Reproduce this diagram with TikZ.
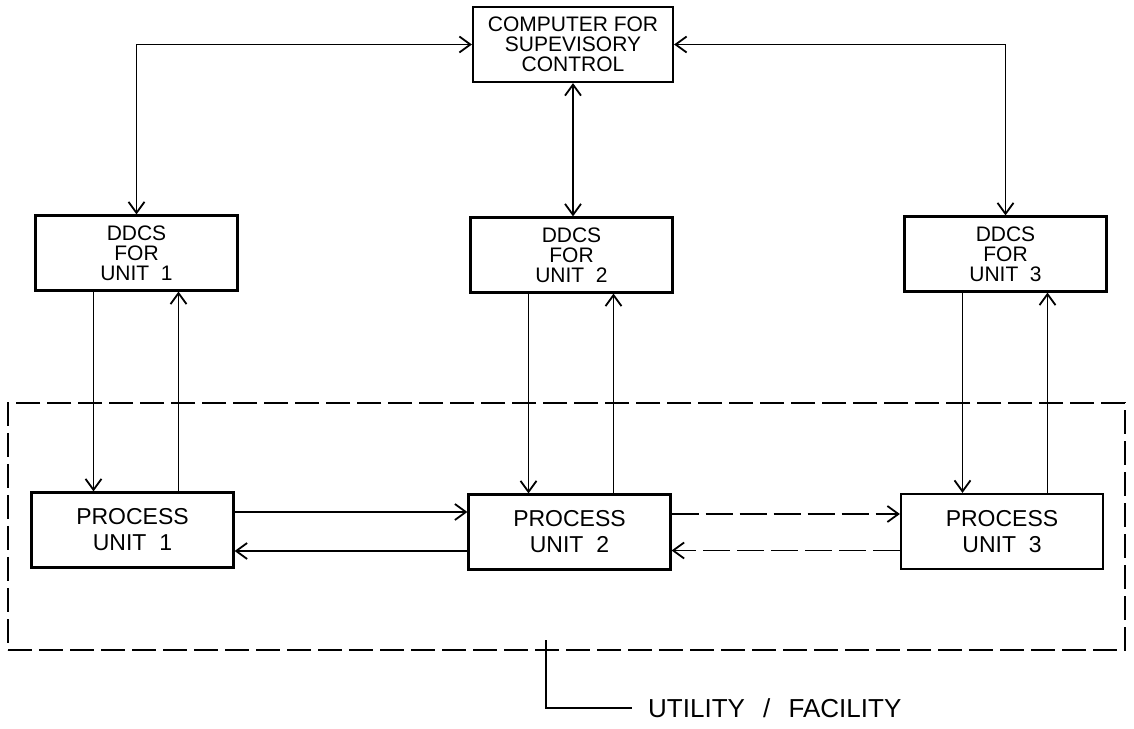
\documentclass[tikz,border=0pt]{standalone}
\usepackage{fontspec}
\setmainfont{Liberation Sans}
\usetikzlibrary{arrows.meta,positioning}
\tikzset{
  blk/.style={draw,rectangle,line width=2.2pt,align=center,inner sep=0pt,minimum width=202pt,minimum height=75pt},
  ctrlblk/.style={blk,font=\fontsize{21}{20}\selectfont},
  unitblk/.style={blk,font=\fontsize{23}{26}\selectfont},
  arr/.style={-{Straight Barb[length=11pt,width=16pt]},line width=1.8pt},
  darr/.style={arr,{Straight Barb[length=11pt,width=16pt]}-{Straight Barb[length=11pt,width=16pt]}},
  dasharr/.style={arr,dash pattern=on 27pt off 7pt},
  plantbox/.style={draw,line width=1.8pt,dash pattern=on 24pt off 7pt,minimum width=1117pt,minimum height=247pt},
  lbl/.style={font=\fontsize{26}{28}\selectfont,anchor=west,inner sep=0pt}
}
\begin{document}
\begin{tikzpicture}[x=1pt,y=1pt]
  \useasboundingbox (0,0) rectangle (1134,728);
  \node[plantbox] (plant) at (566.5,201.5) {};

  \node[ctrlblk,minimum width=200pt] (comp) at (573,683.5) {COMPUTER FOR\\SUPEVISORY\\CONTROL};
  \node[ctrlblk] (ddcs1) at (136.5,475) {DDCS\\FOR\\UNIT\ \ 1};
  \node[ctrlblk] (ddcs2) at (571.5,473) {DDCS\\FOR\\UNIT\ \ 2};
  \node[ctrlblk] (ddcs3) at (1005.5,474) {DDCS\\FOR\\UNIT\ \ 3};
  \node[unitblk] (proc1) at (132.5,198) {PROCESS\\UNIT\ \ 1};
  \node[unitblk] (proc2) at (569.5,196) {PROCESS\\UNIT\ \ 2};
  \node[unitblk] (proc3) at (1002,196.5) {PROCESS\\UNIT\ \ 3};
  \node[lbl] (util) at (648,20) {UTILITY\hspace{0.7em}/\hspace{0.7em}FACILITY};
  \coordinate (tick) at (546,88);

  \draw[darr] (comp.west) -| (ddcs1.north);
  \draw[darr] (comp.south) -- (comp.south |- ddcs2.north);
  \draw[darr] (comp.east) -| (ddcs3.north);
  \foreach \i in {1,2,3} {
    \draw[arr] ([xshift=-43pt]ddcs\i.south) -- ([xshift=-43pt]ddcs\i.south |- proc\i.north);
    \draw[arr] ([xshift=42pt]proc\i.north -| ddcs\i.south) -- ([xshift=42pt]ddcs\i.south);
  }
  \draw[arr] ([yshift=18pt]proc1.east) -- ([yshift=18pt]proc1.east -| proc2.west);
  \draw[arr] ([yshift=-19pt]proc2.west) -- ([yshift=-19pt]proc2.west -| proc1.east);
  \draw[dasharr] ([yshift=18pt]proc2.east) -- ([yshift=18pt]proc2.east -| proc3.west);
  \draw[dasharr] ([yshift=-19pt]proc3.west) -- ([yshift=-19pt]proc3.west -| proc2.east);
  \draw[line width=1.8pt] (tick) |- ([xshift=-16pt]util.west);
\end{tikzpicture}
\end{document}
